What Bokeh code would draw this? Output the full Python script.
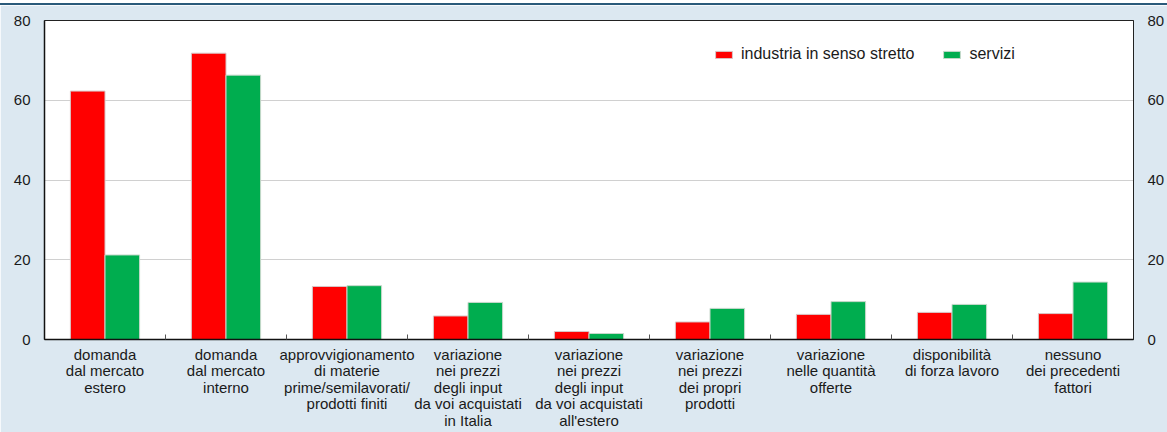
from bokeh.plotting import figure
from bokeh.models import (Range1d, LinearAxis, FixedTicker, Legend, ColumnDataSource, Div)
from bokeh.layouts import column
from bokeh.embed import file_html
from bokeh.resources import INLINE

categories = [
    "domanda\ndal mercato\nestero",
    "domanda\ndal mercato\ninterno",
    "approvvigionamento\ndi materie\nprime/semilavorati/\nprodotti finiti",
    "variazione\nnei prezzi\ndegli input\nda voi acquistati\nin Italia",
    "variazione\nnei prezzi\ndegli input\nda voi acquistati\nall'estero",
    "variazione\nnei prezzi\ndei propri\nprodotti",
    "variazione\nnelle quantità\nofferte",
    "disponibilità\ndi forza lavoro",
    "nessuno\ndei precedenti\nfattori",
]
industria = [62.3, 71.8, 13.3, 5.9, 2.0, 4.4, 6.3, 6.8, 6.5]
servizi = [21.2, 66.3, 13.5, 9.3, 1.5, 7.8, 9.5, 8.8, 14.4]
y_ticks = [0, 20, 40, 60, 80]
series_names = ["industria in senso stretto", "servizi"]

BG = "#dce8f1"
FONT = "Liberation Sans"
TXT = "#1a1a1a"
n = len(categories)
centers = [i + 0.5 for i in range(n)]
bw = 0.286

src = ColumnDataSource(dict(
    xr=[c - bw / 2 for c in centers],
    xg=[c + bw / 2 for c in centers],
    ind=industria,
    ser=servizi,
))

W = 1167
p = figure(width=W, height=427, output_backend="svg", toolbar_location=None,
           x_range=Range1d(0, n), y_range=Range1d(0, 80),
           background_fill_color="white", border_fill_color=BG,
           min_border_left=44, min_border_right=32, min_border_top=15, min_border_bottom=92)
p.outline_line_color = "#222222"
p.outline_line_width = 1

r1 = p.vbar(x="xr", top="ind", width=bw, source=src, fill_color="#ff0000",
            line_color="#d8c8c8", line_width=1)
r2 = p.vbar(x="xg", top="ser", width=bw, source=src, fill_color="#00ad4f",
            line_color="#c8d8cc", line_width=1)

# x axis: labels at category centres, small inward ticks between categories
xa = p.xaxis[0]
xa.ticker = FixedTicker(ticks=centers, minor_ticks=list(range(1, n)))
xa.major_label_overrides = {c: lab for c, lab in zip(centers, categories)}
xa.major_tick_in = 0
xa.major_tick_out = 0
xa.minor_tick_in = 5
xa.minor_tick_out = 0
xa.minor_tick_line_color = "#555555"
xa.axis_line_color = "#111111"
xa.axis_line_width = 1.5
xa.major_label_text_font = FONT
xa.major_label_text_font_size = "15px"
xa.major_label_text_color = TXT
xa.major_label_text_line_height = 0.98
xa.major_label_standoff = 6

# y axes
ya = p.yaxis[0]
ya.ticker = FixedTicker(ticks=y_ticks)
ya.major_tick_in = 0
ya.major_tick_out = 0
ya.minor_tick_in = 0
ya.minor_tick_out = 0
ya.axis_line_color = "#111111"
ya.axis_line_width = 1.5
ya.major_label_text_font = FONT
ya.major_label_text_font_size = "15px"
ya.major_label_text_color = TXT
ya.major_label_standoff = 14

ra = LinearAxis(ticker=FixedTicker(ticks=y_ticks))
ra.major_tick_in = 0
ra.major_tick_out = 0
ra.minor_tick_in = 0
ra.minor_tick_out = 0
ra.axis_line_color = "#222222"
ra.major_label_text_font = FONT
ra.major_label_text_font_size = "15px"
ra.major_label_text_color = TXT
ra.major_label_standoff = 14
p.add_layout(ra, "right")

p.xgrid.grid_line_color = None
p.ygrid.ticker = FixedTicker(ticks=[20, 40, 60])
p.ygrid.grid_line_color = "#d0d0d0"
p.ygrid.grid_line_width = 1

legend = Legend(items=[(series_names[0], [r1]), (series_names[1], [r2])],
                orientation="horizontal", location=(669, 276),
                glyph_width=21, glyph_height=9, label_standoff=7, spacing=27,
                padding=0, margin=0, background_fill_alpha=0, border_line_alpha=0,
                label_text_font=FONT, label_text_font_size="16px",
                label_text_color=TXT)
p.add_layout(legend)

topline = Div(width=W, height=2, margin=(3, 0, 0, 0),
              styles={"background-color": "#2a5a7a"})
layout = column(topline, p, spacing=0)

open("out.html", "w").write(file_html(layout, INLINE))
